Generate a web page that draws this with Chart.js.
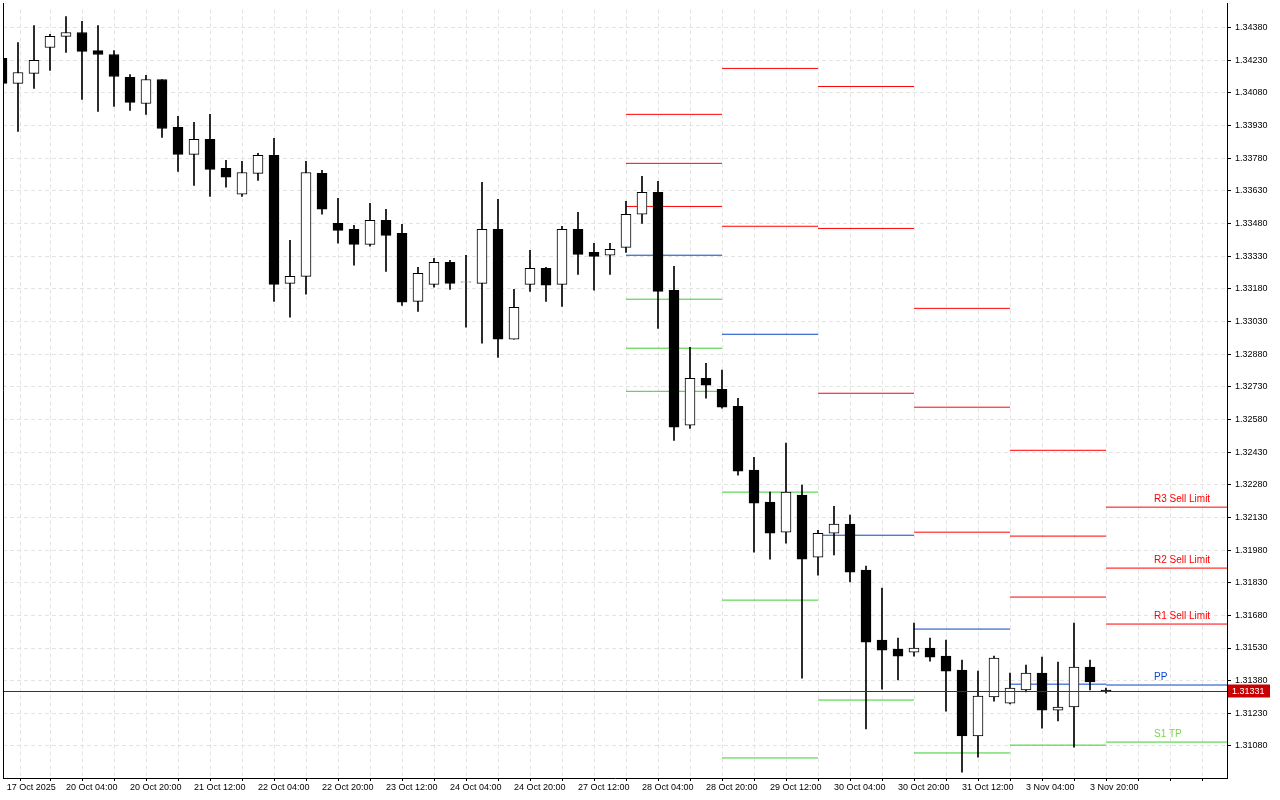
<!DOCTYPE html>
<html>
<head>
<meta charset="utf-8">
<script src="https://cdn.jsdelivr.net/npm/chart.js@4.4.1/dist/chart.umd.min.js"></script>
<style>
  html, body { margin: 0; padding: 0; background: #fff; }
  #wrap { width: 1280px; height: 800px; }
</style>
</head>
<body>
<div id="wrap"><canvas id="chart"></canvas></div>
<script>
// GBPUSD-like H4 candles, index 0 = 17 Oct 2025 12:00
const opens = [1.34238,1.34123,1.34169,1.34288,1.34339,1.34357,1.34274,1.34256,1.34151,1.34031,
  1.34141,1.33921,1.33797,1.33866,1.33733,1.33614,1.33710,1.33793,1.33205,1.33237,
  1.33710,1.33480,1.33453,1.33384,1.33494,1.33435,1.33122,1.33200,1.33301,1.33210,
  1.33205,1.33453,1.32948,1.33200,1.33274,1.33200,1.33453,1.33347,1.33334,1.33370,
  1.33522,1.33623,1.33173,1.32553,1.32769,1.32718,1.32640,1.32347,1.32200,1.32062,
  1.32232,1.31947,1.32057,1.32099,1.31888,1.31566,1.31525,1.31511,1.31530,1.31493,
  1.31429,1.31126,1.31305,1.31277,1.31337,1.31415,1.31245,1.31259,1.31442,1.31337];
const highs = [1.34242,1.34311,1.34389,1.34348,1.34430,1.34408,1.34389,1.34274,1.34164,1.34160,
  1.34141,1.33972,1.33944,1.33981,1.33770,1.33765,1.33802,1.33871,1.33402,1.33765,
  1.33724,1.33595,1.33471,1.33572,1.33545,1.33476,1.33278,1.33320,1.33311,1.33334,
  1.33669,1.33591,1.33177,1.33356,1.33278,1.33467,1.33531,1.33389,1.33389,1.33581,
  1.33696,1.33673,1.33283,1.32911,1.32838,1.32806,1.32677,1.32406,1.32246,1.32471,
  1.32278,1.32071,1.32181,1.32140,1.31906,1.31805,1.31576,1.31644,1.31576,1.31566,
  1.31475,1.31424,1.31493,1.31415,1.31452,1.31488,1.31465,1.31644,1.31475,1.31346];
const lows = [1.34118,1.33903,1.34100,1.34183,1.34265,1.34050,1.33994,1.34017,1.33999,1.33981,
  1.33875,1.33719,1.33655,1.33604,1.33646,1.33604,1.33678,1.33122,1.33049,1.33155,
  1.33522,1.33389,1.33288,1.33375,1.33260,1.33104,1.33076,1.33187,1.33177,1.33003,
  1.32930,1.32865,1.32948,1.33168,1.33122,1.33099,1.33246,1.33173,1.33246,1.33347,
  1.33480,1.32998,1.32484,1.32539,1.32677,1.32631,1.32324,1.31970,1.31938,1.32012,
  1.31392,1.31865,1.31957,1.31833,1.31158,1.31341,1.31383,1.31493,1.31470,1.31240,
  1.30960,1.31029,1.31286,1.31273,1.31328,1.31162,1.31195,1.31075,1.31337,1.31323];
const closes = [1.34123,1.34173,1.34229,1.34339,1.34357,1.34270,1.34256,1.34155,1.34036,1.34141,
  1.33916,1.33797,1.33866,1.33728,1.33692,1.33714,1.33793,1.33200,1.33237,1.33714,
  1.33545,1.33448,1.33384,1.33494,1.33425,1.33118,1.33251,1.33301,1.33205,1.33210,
  1.33453,1.32948,1.33095,1.33274,1.33196,1.33453,1.33338,1.33329,1.33361,1.33522,
  1.33623,1.33168,1.32544,1.32769,1.32737,1.32636,1.32342,1.32195,1.32057,1.32246,
  1.31938,1.32057,1.32099,1.31878,1.31557,1.31520,1.31493,1.31530,1.31488,1.31424,
  1.31126,1.31309,1.31484,1.31346,1.31415,1.31245,1.31259,1.31442,1.31374,1.31331];

const xLabels = ["17 Oct 2025","20 Oct 04:00","20 Oct 20:00","21 Oct 12:00","22 Oct 04:00",
  "22 Oct 20:00","23 Oct 12:00","24 Oct 04:00","24 Oct 20:00","27 Oct 12:00","28 Oct 04:00",
  "28 Oct 20:00","29 Oct 12:00","30 Oct 04:00","30 Oct 20:00","31 Oct 12:00","3 Nov 04:00","3 Nov 20:00"];
const yTicks = [1.34380,1.34230,1.34080,1.33930,1.33780,1.33630,1.33480,1.33330,1.33180,1.33030,
  1.32880,1.32730,1.32580,1.32430,1.32280,1.32130,1.31980,1.31830,1.31680,1.31530,1.31380,
  1.31230,1.31080];

// daily pivot levels, one entry per day (candle index where the day starts)
const pivotStart = [39, 45, 51, 57, 63, 69];
const pivotEnd   = [45, 51, 57, 63, 69, 77];
const r3 = [1.33981, null,    1.34109, 1.33090, 1.32438, 1.32177];
const r2 = [1.33756, 1.34192, 1.33457, 1.32636, 1.32044, 1.31897];
const r1 = [1.33558, 1.33467, 1.32700, 1.32062, 1.31764, 1.31640];
const pp = [1.33334, 1.32971, 1.32048, 1.31617, 1.31364, 1.31360];
const s1 = [1.33132, 1.32246, 1.31291, 1.31048, 1.31084, 1.31098];
const s2 = [1.32907, 1.31750, null,    null,    null,    null];
const s3 = [1.32709, 1.31025, null,    null,    null,    null];
const bidPrice = 1.31331;

const RED = "#ff0000", BLUE = "#0a46c8", GREEN = "#3ccd32";

const bodies = [], wicks = [], bodyColors = [];
for (let i = 0; i < opens.length; i++) {
  let lo = Math.min(opens[i], closes[i]);
  let hi = Math.max(opens[i], closes[i]);
  if (hi - lo < 0.00002) hi = lo + 0.00002;
  bodies.push({ x: i, y: [lo, hi] });
  wicks.push({ x: i, y: [lows[i], highs[i]] });
  bodyColors.push(closes[i] >= opens[i] ? "#ffffff" : "#000000");
}

const levelSets = [[r3, RED], [r2, RED], [r1, RED], [pp, BLUE], [s1, GREEN], [s2, GREEN], [s3, GREEN]];
const levelDatasets = [];
levelSets.forEach(([arr, color]) => {
  arr.forEach((v, d) => {
    if (v === null) return;
    levelDatasets.push({
      type: "line",
      data: [{ x: pivotStart[d], y: v }, { x: pivotEnd[d], y: v }],
      borderColor: color, borderWidth: 1, pointRadius: 0, order: 3,
    });
  });
});

const overlay = {
  id: "overlay",
  afterDatasetsDraw(chart) {
    const { ctx, chartArea: a, scales: { x, y } } = chart;
    ctx.save();
    // bid line
    const by = Math.round(y.getPixelForValue(bidPrice)) + 0.5;
    ctx.strokeStyle = "#8c1010";
    ctx.lineWidth = 1;
    ctx.beginPath(); ctx.moveTo(a.left, by); ctx.lineTo(a.right, by); ctx.stroke();
    // left frame
    ctx.strokeStyle = "#000";
    ctx.beginPath(); ctx.moveTo(a.left + 0.5, 3); ctx.lineTo(a.left + 0.5, a.bottom); ctx.stroke();
    ctx.beginPath(); ctx.moveTo(a.right + 0.5, 3); ctx.lineTo(a.right + 0.5, a.top); ctx.stroke();
    // level labels for the last day
    const last = pivotStart.length - 1;
    const lx = x.getPixelForValue(72);
    ctx.font = "10px 'Liberation Sans'";
    ctx.textBaseline = "bottom";
    [["R3 Sell Limit", r3[last], RED], ["R2 Sell Limit", r2[last], RED], ["R1 Sell Limit", r1[last], RED],
     ["PP", pp[last], BLUE], ["S1 TP", s1[last], "#7ad84a"]].forEach(([t, v, c]) => {
      ctx.fillStyle = c;
      ctx.fillText(t, lx, y.getPixelForValue(v) - 3);
    });
    // bid price box
    ctx.fillStyle = "#c80000";
    ctx.fillRect(a.right + 1, by - 7, 42, 13);
    ctx.fillStyle = "#fff";
    ctx.font = "9px 'Liberation Sans'";
    ctx.textBaseline = "middle";
    ctx.fillText(bidPrice.toFixed(5), a.right + 5, by);
    ctx.restore();
  },
};

new Chart(document.getElementById("chart"), {
  type: "bar",
  data: {
    datasets: [
      { data: bodies, backgroundColor: bodyColors, borderColor: "#000", borderWidth: 1,
        borderSkipped: false, barThickness: 10, grouped: false, order: 1 },
      { data: wicks, backgroundColor: "#000", borderWidth: 0, barThickness: 1, grouped: false, order: 2 },
      ...levelDatasets,
    ],
  },
  options: {
    responsive: true,
    maintainAspectRatio: false,
    animation: false,
    layout: { padding: { left: 3, top: 0, right: 0, bottom: 0 } },
    plugins: { legend: { display: false }, tooltip: { enabled: false } },
    scales: {
      x: {
        type: "linear", min: 0.0625, max: 76.5625, offset: false,
        afterBuildTicks: (s) => {
          const t = [{ value: 0.3 }];
          for (let v = 2; v <= 76; v += 2) t.push({ value: v });
          s.ticks = t;
        },
        afterFit: (s) => { s.height = 22; },
        ticks: {
          autoSkip: false, maxRotation: 0, align: "start", padding: 1,
          color: "#000", font: { family: "Liberation Sans", size: 9 },
          callback: (v) => (v < 1 ? xLabels[0] : (v % 4 === 0 ? (xLabels[v / 4] || "") : "")),
        },
        grid: { color: "#e3e3e3", tickColor: "#000", tickLength: 3, tickBorderDash: [] },
        border: { color: "#000", dash: [4, 3] },
      },
      y: {
        position: "right", min: 1.30933, max: 1.34463,
        afterBuildTicks: (s) => { s.ticks = yTicks.map((v) => ({ value: v })); },
        afterFit: (s) => { s.width = 53; },
        ticks: {
          color: "#000", padding: 4, font: { family: "Liberation Sans", size: 9 },
          callback: (v) => v.toFixed(5),
        },
        grid: { color: "#e3e3e3", tickColor: "#000", tickLength: 4, tickBorderDash: [] },
        border: { color: "#000", dash: [4, 3] },
      },
    },
  },
  plugins: [overlay],
});
</script>
</body>
</html>
